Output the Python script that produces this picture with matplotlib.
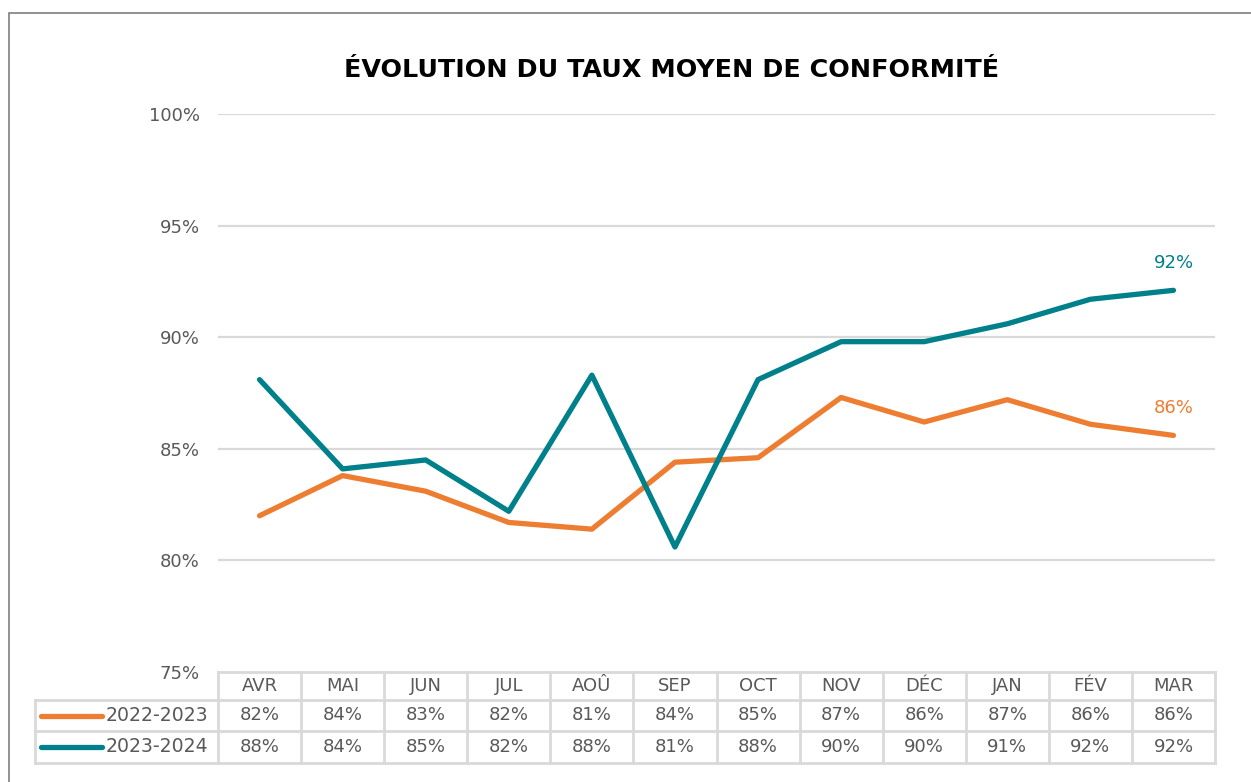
import matplotlib
matplotlib.use("Agg")
import matplotlib.pyplot as plt
from matplotlib.patches import Rectangle
from matplotlib.lines import Line2D

months = ["AVR", "MAI", "JUN", "JUL", "AOÛ", "SEP", "OCT", "NOV", "DÉC", "JAN", "FÉV", "MAR"]
series_names = ["2022-2023", "2023-2024"]
vals_2022 = [82.0, 83.8, 83.1, 81.7, 81.4, 84.4, 84.6, 87.3, 86.2, 87.2, 86.1, 85.6]
vals_2023 = [88.1, 84.1, 84.5, 82.2, 88.3, 80.6, 88.1, 89.8, 89.8, 90.6, 91.7, 92.1]
table_2022 = [82, 84, 83, 82, 81, 84, 85, 87, 86, 87, 86, 86]
table_2023 = [88, 84, 85, 82, 88, 81, 88, 90, 90, 91, 92, 92]
yticks = [75, 80, 85, 90, 95, 100]
title = "ÉVOLUTION DU TAUX MOYEN DE CONFORMITÉ"

ORANGE = "#ED7D31"
TEAL = "#00808A"
GRID = "#D9D9D9"
TXT = "#595959"
FS = 13

plt.rcParams['font.family'] = ['DejaVu Sans']

W, H = 1251, 782
fig = plt.figure(figsize=(W / 100, H / 100), dpi=100)

# outer frame
fig.patches.append(Rectangle((9 / W, -0.1), 2.0, (H - 13) / H + 0.1, transform=fig.transFigure,
                             fill=False, edgecolor="#7F7F7F", lw=1.2))

x0, x1 = 218, 1215
ytop, ybot = 114, 672
ax = fig.add_axes([x0 / W, 1 - ybot / H, (x1 - x0) / W, (ybot - ytop) / H])
xs = list(range(len(months)))
ax.set_xlim(-0.5, len(months) - 0.5)
ax.set_ylim(75, 100)
for s in ax.spines.values():
    s.set_visible(False)
ax.set_xticks([])
ax.set_yticks(yticks)
ax.set_yticklabels([f"{v}%" for v in yticks], color=TXT, fontsize=FS)
ax.tick_params(axis='y', length=0, pad=13)
for v in yticks[1:]:
    ax.axhline(v, color=GRID, lw=1.6, zorder=0)

ax.plot(xs, vals_2022, color=ORANGE, lw=3.8, solid_capstyle='round', solid_joinstyle='round', zorder=3)
ax.plot(xs, vals_2023, color=TEAL, lw=3.8, solid_capstyle='round', solid_joinstyle='round', zorder=3)

ax.annotate(f"{table_2023[-1]}%", (xs[-1], vals_2023[-1]), xytext=(0, 13), textcoords='offset points',
            ha='center', va='bottom', color=TEAL, fontsize=FS)
ax.annotate(f"{table_2022[-1]}%", (xs[-1], vals_2022[-1]), xytext=(0, 13), textcoords='offset points',
            ha='center', va='bottom', color=ORANGE, fontsize=FS)

fig.text(672 / W, 1 - 70 / H, title, ha='center', va='center', fontsize=18.3, fontweight='bold', color='black')

# data table
axh = ybot - ytop
rows_px = [672, 700, 731, 763]
ry = [-(r - ybot) / axh for r in rows_px]
tr = ax.get_xaxis_transform()
tra = ax.transAxes
left_px = 35
xl = (left_px - x0) / (x1 - x0)  # axes fraction
lk = dict(color=GRID, lw=2, clip_on=False, transform=tra, zorder=1)
ax.add_line(Line2D([0, 1], [ry[0], ry[0]], **lk))
for r in ry[1:]:
    ax.add_line(Line2D([xl, 1], [r, r], **lk))
for i in range(len(months) + 1):
    xf = i / len(months)
    ax.add_line(Line2D([xf, xf], [ry[0], ry[3]], **lk))
ax.add_line(Line2D([xl, xl], [ry[1], ry[3]], **lk))

for i, m in enumerate(months):
    ax.text(i, (ry[0] + ry[1]) / 2, m, transform=tr, ha='center', va='center', color=TXT, fontsize=FS, clip_on=False)
    ax.text(i, (ry[1] + ry[2]) / 2, f"{table_2022[i]}%", transform=tr, ha='center', va='center',
            color=TXT, fontsize=FS, clip_on=False)
    ax.text(i, (ry[2] + ry[3]) / 2, f"{table_2023[i]}%", transform=tr, ha='center', va='center',
            color=TXT, fontsize=FS, clip_on=False)

for k, (name, col) in enumerate(zip(series_names, [ORANGE, TEAL])):
    yc = (ry[1 + k] + ry[2 + k]) / 2
    lx0 = (41 - x0) / (x1 - x0)
    lx1 = (102 - x0) / (x1 - x0)
    ax.add_line(Line2D([lx0, lx1], [yc, yc], color=col, lw=3.8, solid_capstyle='round',
                       clip_on=False, transform=tra, zorder=2))
    ax.text((106 - x0) / (x1 - x0), yc, name, transform=tra, ha='left', va='center', color=TXT,
            fontsize=13.6, clip_on=False)

fig.savefig("out.png", dpi=100)
